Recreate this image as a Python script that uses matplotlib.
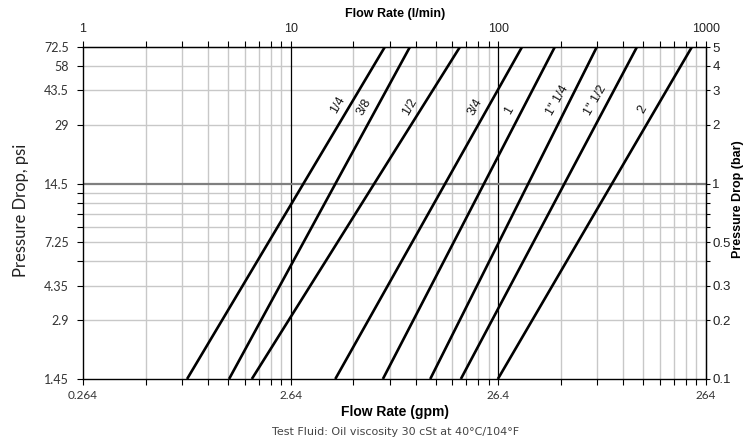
import matplotlib
matplotlib.use("Agg")
import matplotlib.pyplot as plt
import numpy as np

# line sizes and their end points (l/min at 0.1 bar and at 5 bar)
sizes = ["1/4", "3/8", "1/2", "3/4", "1", "1\" 1/4", "1\" 1/2", "2"]
flow_low = [3.17, 5.05, 6.5, 16.4, 27.8, 47.0, 66.0, 99.5]
flow_high = [28.4, 37.5, 65.3, 130.0, 187.0, 298.0, 465.0, 855.0]
drop_low = 0.1
drop_high = 5.0
# height (bar) where each size label sits
label_drop = [2.53, 2.47, 2.47, 2.47, 2.36, 2.68, 2.68, 2.39]

lpm_ticks = [1, 10, 100, 1000]
gpm_labels = ["0.264", "2.64", "26.4", "264"]
bar_ticks = [0.1, 0.2, 0.3, 0.5, 1, 2, 3, 4, 5]
bar_labels = ["0.1", "0.2", "0.3", "0.5", "1", "2", "3", "4", "5"]
psi_labels = ["1.45", "2.9", "4.35", "7.25", "14.5", "29", "43.5", "58", "72.5"]
bar_minor = [0.4, 0.6, 0.7, 0.8, 0.9]

fig = plt.figure(figsize=(7.5, 4.44), dpi=100)
ax = fig.add_axes([0.1107, 0.1464, 0.8306, 0.7477])
ax.set_xscale("log")
ax.set_yscale("log")
ax.set_xlim(1, 1000)
ax.set_ylim(0.1, 5)

# grid
minor_x = [m * d for d in [1, 10, 100] for m in range(2, 10)]
for v in minor_x:
    ax.axvline(v, color="#c8c8c8", lw=1.0, zorder=1)
for v in [10, 100]:
    ax.axvline(v, color="black", lw=0.9, zorder=1.5)
for v in [0.2, 0.3, 0.4, 0.5, 0.6, 0.7, 0.8, 0.9, 2, 3, 4]:
    ax.axhline(v, color="#c8c8c8", lw=1.0, zorder=1)
ax.axhline(1, color="#7f7f7f", lw=1.6, zorder=1.5)

# size lines
for name, q0, q1, yl in zip(sizes, flow_low, flow_high, label_drop):
    ax.plot([q0, q1], [drop_low, drop_high], color="black", lw=1.9,
            solid_capstyle="butt", zorder=3)
    t = (np.log10(yl) - np.log10(drop_low)) / (np.log10(drop_high) - np.log10(drop_low))
    xl = 10 ** (np.log10(q0) + t * (np.log10(q1) - np.log10(q0)))
    ax.annotate(name, (xl, yl), xytext=(-13, 0), textcoords="offset pixels",
                rotation=60, ha="center", va="center", rotation_mode="anchor",
                fontsize=9, family="Liberation Sans", color="#111111", zorder=4)

for s in ax.spines.values():
    s.set_color("black")
    s.set_linewidth(1.0)

# bottom: gpm, left: psi
ax.set_xticks(lpm_ticks)
ax.set_xticklabels(gpm_labels)
ax.set_xticks(minor_x, minor=True)
ax.xaxis.set_minor_formatter(plt.NullFormatter())
ax.set_yticks(bar_ticks)
ax.set_yticklabels(psi_labels)
ax.set_yticks(bar_minor, minor=True)
ax.yaxis.set_minor_formatter(plt.NullFormatter())
ax.tick_params(which="both", direction="out", length=4, width=0.8, color="black")
ax.tick_params(axis="x", pad=4, labelsize=8.5, labelcolor="#333333")
ax.tick_params(axis="y", pad=6, labelsize=9, labelcolor="#333333")
for lab in ax.get_xticklabels() + ax.get_yticklabels():
    lab.set_family("Lato")

# top: l/min, right: bar
top = ax.secondary_xaxis("top")
top.set_xticks(lpm_ticks)
top.set_xticklabels([str(v) for v in lpm_ticks])
top.set_xticks(minor_x, minor=True)
top.xaxis.set_minor_formatter(plt.NullFormatter())
top.tick_params(which="both", direction="out", length=4, width=0.8, pad=5, labelsize=9)
right = ax.secondary_yaxis("right")
right.set_yticks(bar_ticks)
right.set_yticklabels(bar_labels)
right.set_yticks(bar_minor, minor=True)
right.yaxis.set_minor_formatter(plt.NullFormatter())
right.tick_params(which="both", direction="out", length=3, width=0.8, pad=1.5, labelsize=9.5)
for lab in top.get_xticklabels() + right.get_yticklabels():
    lab.set_family("Liberation Sans")
    lab.set_color("#222222")

fig.text(0.527, 0.968, "Flow Rate (l/min)", ha="center", va="center",
         fontsize=9, fontweight="bold", family="Liberation Sans")
fig.text(0.527, 0.072, "Flow Rate (gpm)", ha="center", va="center",
         fontsize=10, fontweight="bold", family="Liberation Sans")
fig.text(0.028, 0.527, "Pressure Drop, psi", ha="center", va="center",
         rotation=90, fontsize=12, family="Lato", color="#222222")
fig.text(0.984, 0.552, "Pressure Drop (bar)", ha="center", va="center",
         rotation=90, fontsize=9, fontweight="bold", family="Liberation Sans")
fig.text(0.527, 0.027, "Test Fluid: Oil viscosity 30 cSt at 40°C/104°F",
         ha="center", va="center", fontsize=8, color="#444444",
         family=["Liberation Sans Narrow", "DejaVu Sans"])

fig.savefig("out.png", dpi=100)
